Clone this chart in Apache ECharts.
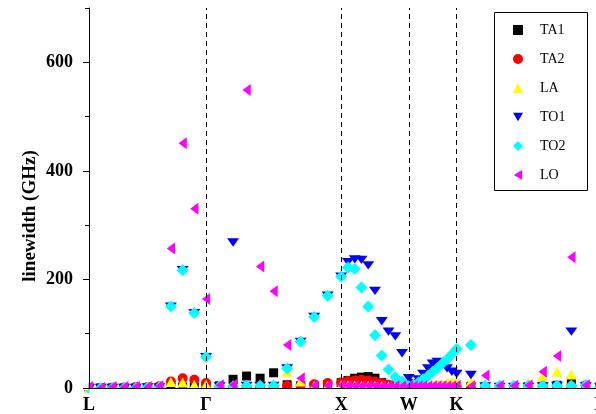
<!DOCTYPE html>
<html>
<head>
<meta charset="utf-8">
<script src="https://cdn.jsdelivr.net/npm/echarts@6/dist/echarts.min.js"></script>
<style>
  html, body { margin: 0; padding: 0; background: #fff; }
  #chart { width: 596px; height: 414px; }
</style>
</head>
<body>
<div id="chart"></div>
<script>
// path coordinate of each q-point along L-Γ-X-W-K-Γ
const kpath = [0, 0.087, 0.173, 0.260, 0.346, 0.433, 0.520, 0.606, 0.693, 0.779, 0.866,
  0.966, 1.066, 1.166, 1.266, 1.366, 1.466, 1.566, 1.666, 1.766, 1.866,
  1.916, 1.966, 2.016, 2.066, 2.116, 2.166, 2.216, 2.266, 2.316, 2.366,
  2.401, 2.437, 2.472, 2.508, 2.543, 2.578, 2.614, 2.649, 2.685, 2.720,
  2.826, 2.932, 3.038, 3.144, 3.251, 3.357, 3.463, 3.569, 3.675, 3.781]
const symPos = [0, 0.866, 1.866, 2.366, 2.720, 3.781]
const symLabels = ['L', 'Γ', 'X', 'W', 'K', 'Γ']

// linewidths (GHz)
const TA1 = [0, 0, 0, 0, 0, 0, 0, 1, 2, 2, 3,
  4, 16, 22, 18, 28, 6, 4, 4, 6, 10,
  14, 18, 20, 21, 18, 10, 5, 3, 2, 1,
  1, 1, 1, 2, 2, 2, 2, 3, 3, 3,
  3, 2, 1, 1, 2, 3, 5, 12, 3, 0]
const TA2 = [0, 0, 1, 1, 2, 2, 3, 12, 18, 15, 9,
  2, 1, 1, 1, 2, 4, 5, 7, 9, 10,
  13, 14, 15, 14, 12, 9, 6, 4, 3, 2,
  2, 2, 2, 2, 2, 3, 3, 3, 3, 3,
  3, 2, 2, 2, 2, 3, 4, 4, 5, 1]
const LA = [0, 0, 1, 1, 1, 3, 3, 11, 10, 6, 6,
  2, 1, 1, 1, 3, 30, 12, 4, 4, 5,
  5, 5, 4, 4, 4, 4, 3, 3, 3, 3,
  4, 4, 5, 5, 6, 7, 8, 10, 12, 14,
  12, 4, 2, 2, 10, 22, 30, 25, 4, 2]
const TO1 = [0, 0, 0, 0, 0, 1, 1, 150, 217, 138, 57,
  3, 268, 4, 4, 4, 36, 85, 131, 170, 205,
  232, 237, 236, 226, 179, 123, 104, 95, 64, 18,
  9, 16, 26, 36, 45, 48, 42, 36, 30, 26,
  24, 3, 2, 2, 2, 3, 4, 104, 3, 2]
const TO2 = [0, 0, 0, 0, 0, 1, 1, 150, 217, 138, 57,
  3, 3, 4, 4, 4, 36, 85, 131, 170, 205,
  222, 219, 185, 150, 97, 60, 34, 20, 12, 3,
  6, 10, 16, 22, 30, 37, 45, 53, 62, 72,
  79, 4, 4, 4, 4, 4, 4, 4, 5, 2]
const LO = [2, 0, 2, 2, 2, 2, 3, 257, 451, 330, 164,
  5, 6, 549, 224, 178, 79, 18, 4, 4, 5,
  4, 4, 4, 4, 4, 3, 3, 3, 3, 3,
  3, 3, 3, 3, 3, 3, 3, 3, 3, 4,
  3, 23, 4, 4, 5, 30, 59, 241, 5, 3]

const serif = 'Liberation Serif'
const mychart = echarts.init(document.getElementById('chart'))

const mk = (name, vals, symbol, size, color) => ({
  name: name,
  type: 'scatter',
  symbol: symbol,
  symbolSize: size,
  symbolKeepAspect: true,
  data: kpath.map((x, i) => [x, vals[i]]),
  itemStyle: { color: color, opacity: 1 },
  z: 2
})

const series = [
  mk('TA1', TA1, 'rect', 9, '#000000'),
  mk('TA2', TA2, 'circle', 10, '#ff0000'),
  mk('LA', LA, 'triangle', [11, 10], '#ffff00'),
  mk('TO1', TO1, 'path://M0,0 L12,0 L6,10 Z', [12, 10], '#0000ff'),
  mk('TO2', TO2, 'diamond', 12, '#00ffff'),
  mk('LO', LO, 'path://M0,6 L10,0 L10,12 Z', [10, 12], '#ff00ff')
]
// dashed lines at the symmetry points
series.push({
  type: 'scatter',
  data: [],
  markLine: {
    silent: true,
    symbol: 'none',
    label: { show: false },
    lineStyle: { color: '#000', width: 1, type: [5, 4] },
    data: symPos.slice(1, 5).map(x => ({ xAxis: x }))
  }
})

mychart.setOption({
  animation: false,
  backgroundColor: '#fff',
  grid: { left: 89, top: 8, width: 511, height: 380, containLabel: false, outerBoundsMode: 'none' },
  legend: {
    orient: 'vertical',
    left: 513,
    top: 23,
    padding: 0,
    itemWidth: 10,
    itemHeight: 10,
    itemGap: 15,
    textStyle: { fontFamily: serif, fontSize: 14, color: '#000', padding: [0, 0, 0, 12] },
    data: ['TA1', 'TA2', 'LA', 'TO1', 'TO2', 'LO'],
    z: 20
  },
  xAxis: [
    {
      type: 'value',
      min: 0,
      max: 3.781,
      z: 10,
      splitLine: { show: false },
      axisLine: { lineStyle: { color: '#000', width: 1 } },
      axisTick: { show: false },
      axisLabel: {
        customValues: symPos,
        formatter: v => {
          const i = symPos.findIndex(p => Math.abs(p - v) < 1e-6)
          return i >= 0 ? symLabels[i] : ''
        },
        margin: 8,
        color: '#000',
        fontFamily: serif,
        fontWeight: 'bold',
        fontSize: 18
      }
    },
    {
      type: 'value',
      position: 'top',
      min: 0,
      max: 3.781,
      z: 10,
      splitLine: { show: false },
      axisLine: { show: true, lineStyle: { color: '#000', width: 1 } },
      axisTick: { show: false },
      axisLabel: { show: false }
    }
  ],
  yAxis: [
    {
      type: 'value',
      min: 0,
      max: 700,
      interval: 200,
      z: 10,
      splitLine: { show: false },
      axisLine: { show: true, lineStyle: { color: '#000', width: 1 } },
      axisTick: { show: true, length: 6, lineStyle: { color: '#000' } },
      axisLabel: {
        showMaxLabel: false,
        margin: 16,
        color: '#000',
        fontFamily: serif,
        fontWeight: 'bold',
        fontSize: 18
      }
    },
    {
      type: 'value',
      min: 0,
      max: 700,
      interval: 100,
      position: 'left',
      z: 10,
      splitLine: { show: false },
      axisLine: { show: false },
      axisTick: { show: true, length: 4, lineStyle: { color: '#000' } },
      axisLabel: { show: false }
    }
  ],
  graphic: [
    // mask the parts of markers that fall below the axis
    { type: 'rect', z: 5, silent: true, shape: { x: 89.5, y: 388.5, width: 510, height: 7 }, style: { fill: '#fff' } },
    { type: 'rect', z: 5, silent: true, shape: { x: 76, y: 380, width: 12.5, height: 10 }, style: { fill: '#fff' } },
    // legend frame
    { type: 'rect', z: 4, silent: true, shape: { x: 494.5, y: 12.5, width: 93, height: 178 }, style: { fill: '#fff', stroke: '#000', lineWidth: 1 } },
    {
      type: 'text', z: 10, x: 30, y: 216, rotation: Math.PI / 2,
      style: {
        text: 'linewidth (GHz)', fontFamily: serif, fontWeight: 'bold', fontSize: 19,
        fill: '#000', align: 'center', verticalAlign: 'middle'
      }
    }
  ],
  series: series
})
</script>
</body>
</html>
